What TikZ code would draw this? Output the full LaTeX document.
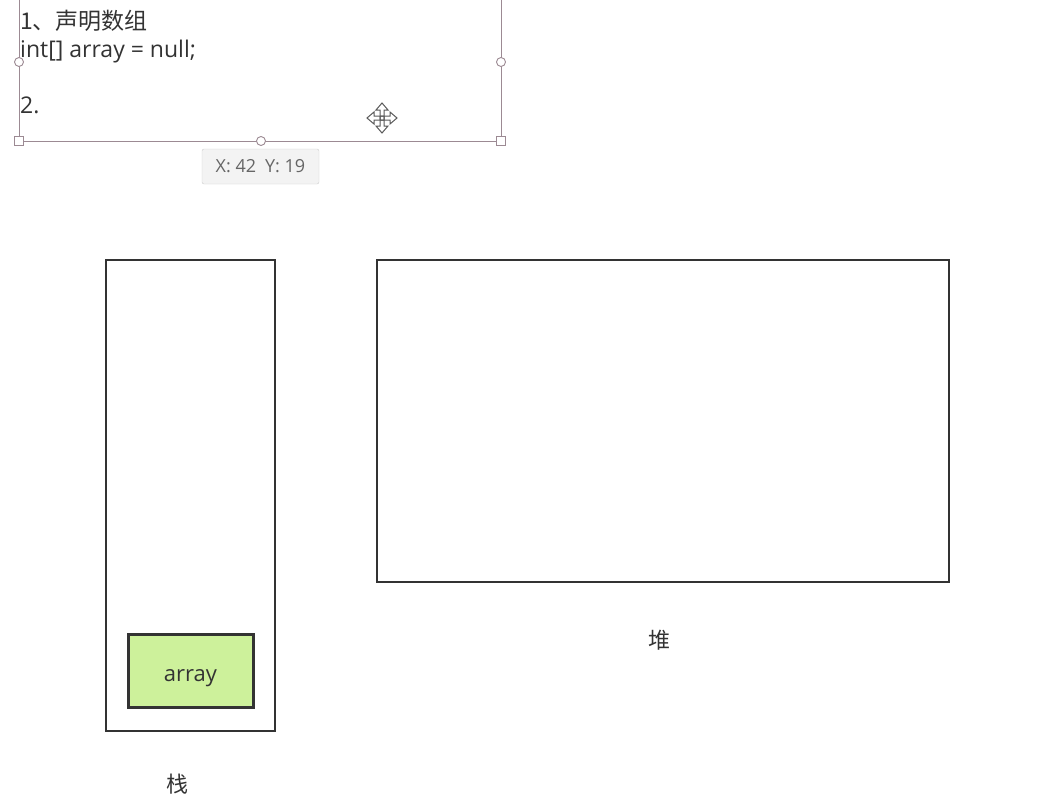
\documentclass[tikz,border=0pt]{standalone}
\usepackage{fontspec}
\setmainfont{Open Sans}
\newfontfamily\cjk{Noto Sans CJK SC}
\usetikzlibrary{positioning}

\definecolor{inkgray}{HTML}{333333}
\definecolor{selline}{HTML}{9C8A93}
\definecolor{arrayfill}{HTML}{CDF19B}
\definecolor{tipfill}{HTML}{F3F3F3}
\definecolor{tipline}{HTML}{CCCCCC}

\tikzset{
    memblock/.style={draw=inkgray, line width=2.8pt, inner sep=0pt},
    linetext/.style={text=inkgray, inner sep=0pt, anchor=base west, font=\fontsize{23}{27}\selectfont},
    handle/.style={draw=selline, fill=white, line width=0.9pt}
}

\begin{document}
\begin{tikzpicture}[x=1pt, y=-1pt]
    \useasboundingbox (0,0) rectangle (1062,800);

    % text box with its selection frame
    \draw[selline, line width=0.9pt] (19,0) -- (19,141) -- (501,141) -- (501,0);
    \foreach \p in {(19,62),(501,62),(261,141)} \draw[handle] \p circle (4.5pt);
    \foreach \p in {(19,141),(501,141)} \draw[handle] \p ++(-4.5,-4.5) rectangle ++(9,9);
    \node[linetext, font=\cjk\fontsize{23}{27}\selectfont] (step1) at (20,30) {1、声明数组};
    \node[linetext] (decl) at (20,58) {int[] array = null;};
    \node[linetext] (step2) at (20,113) {2.};

    % position tooltip
    \node[draw=tipline, fill=tipfill, rounded corners=2pt, minimum width=117pt, minimum height=35pt,
          text=black!60, font=\fontsize{18}{21}\selectfont] (coords) at (260.5,166.5) {X: 42\enspace Y: 19};

    % move cursor
    \begin{scope}[shift={(382,118)}]
        \foreach \r in {0,90,180,270}
            \draw[black!65, line width=1pt, rotate=\r] (-2,2) -- (-2,-8) -- (-6,-8) -- (0,-15) -- (6,-8) -- (2,-8) -- (2,2);
    \end{scope}

    % stack and heap
    \node[memblock, minimum width=169pt, minimum height=471pt] (stack) at (190.5,495.5) {};
    \node[memblock, minimum width=572pt, minimum height=322pt] (heap) at (663,421) {};
    \node[memblock, line width=3pt, fill=arrayfill, minimum width=125pt, minimum height=73pt,
          text height=22.4pt, text depth=0pt, text=inkgray, font=\fontsize{22}{26}\selectfont] (array) at (190.5,670.5) {array};
    \node[text=inkgray, font=\cjk\fontsize{22}{26}\selectfont] (stacklabel) at (177,784) {栈};
    \node[text=inkgray, font=\cjk\fontsize{22}{26}\selectfont] (heaplabel) at (659,640) {堆};
\end{tikzpicture}
\end{document}
